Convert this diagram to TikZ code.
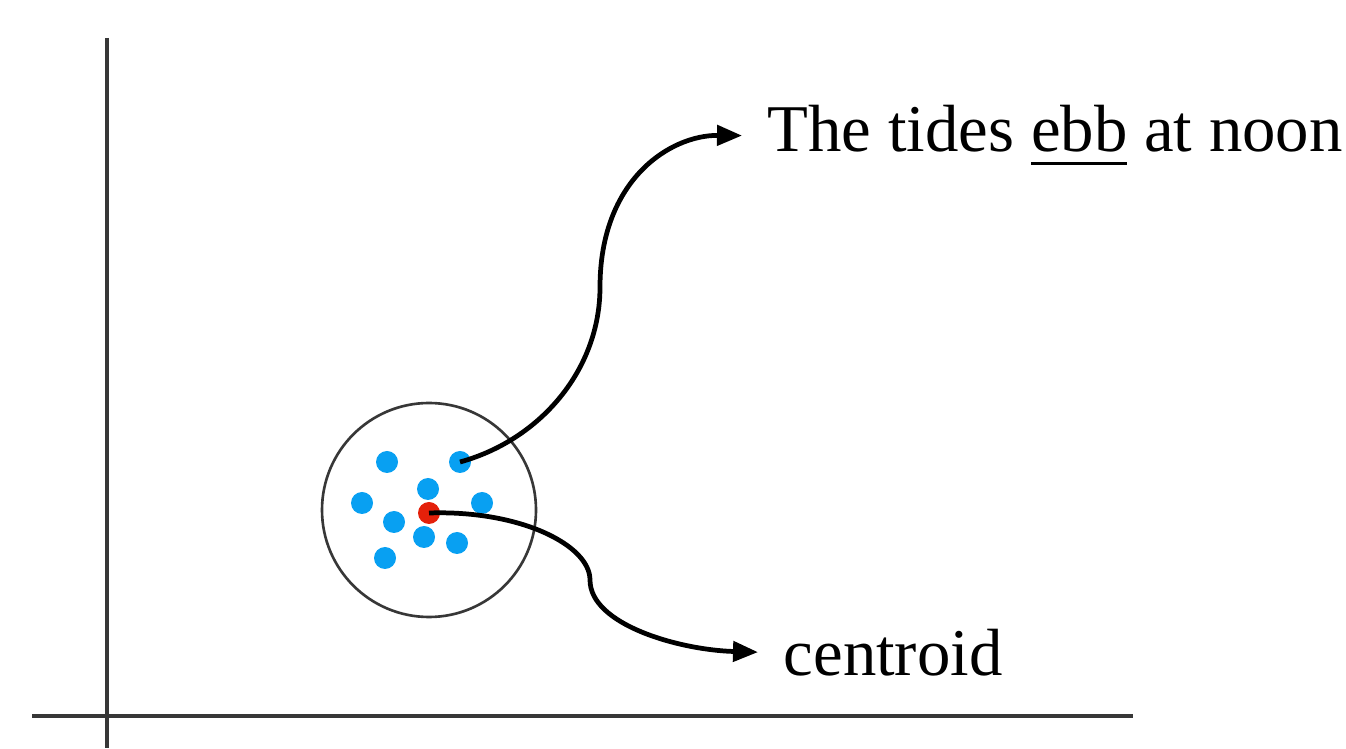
\documentclass[tikz,border=0pt]{standalone}
\usepackage{fontspec}
\setmainfont{Liberation Serif}
\usetikzlibrary{arrows.meta}
\definecolor{ptblue}{RGB}{8,160,242}
\definecolor{ptred}{RGB}{228,32,10}
\definecolor{axisgray}{RGB}{55,55,55}
\newlength\ulwidth
\newcommand\thickul[1]{\settowidth\ulwidth{#1}\rlap{\rule[-0.135cm]{\ulwidth}{0.03cm}}#1}
\begin{document}
\begin{tikzpicture}[
        point/.style={circle, fill=ptblue, draw=none, minimum size=0.22cm, inner sep=0pt},
        centre/.style={circle, fill=ptred, draw=none, minimum size=0.22cm, inner sep=0pt},
        label/.style={font=\fontsize{19}{23}\selectfont, anchor=base west, inner xsep=0.25cm, inner ysep=0pt},
        axis/.style={draw=axisgray, line width=0.9pt},
        link/.style={-{Triangle[length=0.25cm, width=0.2cm]}, line width=1.35pt}
      ]
      \useasboundingbox (0,0) rectangle (13.46,7.48);
      \draw[axis] (1.07,7.10) -- (1.07,0);
      \draw[axis] (0.32,0.32) -- (11.33,0.32);
      \node[circle, draw=axisgray, line width=0.75pt, minimum size=2.14cm, inner sep=0pt] (cluster) at (4.29,2.38) {};
      \node[point] (p1) at (3.87,2.86) {};
      \node[point] (p2) at (4.60,2.86) {};
      \node[point] (p3) at (4.28,2.59) {};
      \node[point] (p4) at (3.62,2.45) {};
      \node[point] (p5) at (4.82,2.45) {};
      \node[point] (p6) at (3.94,2.26) {};
      \node[point] (p7) at (4.24,2.11) {};
      \node[point] (p8) at (4.57,2.05) {};
      \node[point] (p9) at (3.85,1.90) {};
      \node[centre] (c) at (4.29,2.35) {};
      \node[label] (tides) at (7.42,5.96) {The tides \thickul{ebb} at noon};
      \node[label] (cent) at (7.58,0.73) {centroid};
      \coordinate (bend1) at (6.00,4.61);
      \coordinate (bend2) at (5.90,1.68);
      \draw[link] (p2.center) .. controls (5.40,3.08) and (6.00,3.78) .. (bend1)
        .. controls (6.00,5.68) and (6.70,6.13) .. (tides.west);
      \draw[link] (c.center) .. controls (5.20,2.38) and (5.90,2.03) .. (bend2)
        .. controls (5.90,1.23) and (6.80,0.98) .. (cent.west);
    \end{tikzpicture}
\end{document}
